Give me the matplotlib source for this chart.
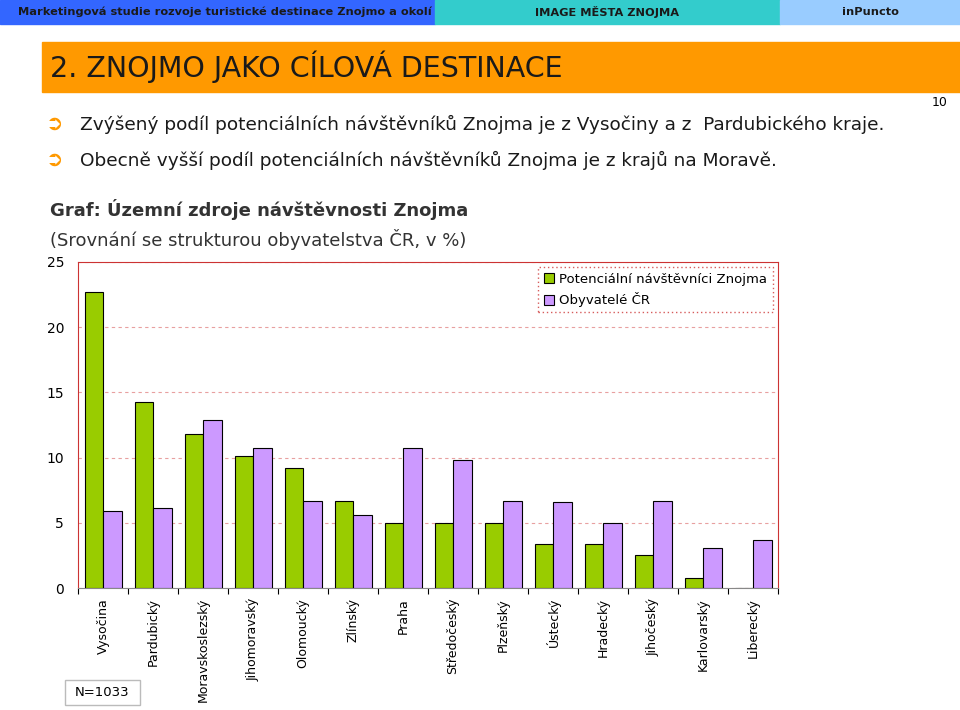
import matplotlib
matplotlib.use("Agg")
import matplotlib.pyplot as plt
from matplotlib.patches import Rectangle
import numpy as np

categories = ["Vysočina", "Pardubický", "Moravskoslezský", "Jihomoravský", "Olomoucký",
              "Zlínský", "Praha", "Středočeský", "Plzeňský", "Ústecký", "Hradecký",
              "Jihočeský", "Karlovarský", "Liberecký"]
visitors = [22.7, 14.3, 11.8, 10.1, 9.2, 6.7, 5.0, 5.0, 5.0, 3.4, 3.4, 2.5, 0.8, 0.0]
population = [5.9, 6.1, 12.9, 10.7, 6.7, 5.6, 10.7, 9.8, 6.7, 6.6, 5.0, 6.7, 3.1, 3.7]
yticks = [0, 5, 10, 15, 20, 25]

W, H = 960, 710
fig = plt.figure(figsize=(9.6, 7.1), dpi=100)
def fx(x): return x / W
def fy(y): return 1 - y / H

# header bars
for x0, x1, c, t, cx in [(0, 435, "#3366FF", "Marketingová studie rozvoje turistické destinace Znojmo a okolí", 225),
                         (435, 780, "#33CCCC", "IMAGE MĚSTA ZNOJMA", 607),
                         (780, 960, "#99CCFF", "inPuncto", 870)]:
    fig.patches.append(Rectangle((fx(x0), fy(24)), fx(x1 - x0), 24 / H, transform=fig.transFigure,
                                 color=c, zorder=0))
    fig.text(fx(cx), fy(12), t, ha="center", va="center", fontsize=8.2, fontweight="bold",
             color="#1a1a1a")
fig.patches.append(Rectangle((fx(42), fy(92)), fx(918), 50 / H, transform=fig.transFigure,
                             color="#FF9900", zorder=0))
fig.text(fx(50), fy(67), "2. ZNOJMO JAKO CÍLOVÁ DESTINACE", fontsize=20.5, va="center",
         color="#1a1a1a")
fig.text(fx(948), fy(103), "10", fontsize=9, ha="right", va="center")

for y, t in [(124, "Zvýšený podíl potenciálních návštěvníků Znojma je z Vysočiny a z  Pardubického kraje."),
             (160, "Obecně vyšší podíl potenciálních návštěvníků Znojma je z krajů na Moravě.")]:
    fig.text(fx(55), fy(y), "➲", fontsize=15, color="#FF9900", va="center", ha="center")
    fig.text(fx(80), fy(y), t, fontsize=13.3, va="center", color="#1a1a1a")

fig.text(fx(50), fy(209), "Graf: Územní zdroje návštěvnosti Znojma", fontsize=13, fontweight="bold",
         va="center", color="#333333")
fig.text(fx(50), fy(239), "(Srovnání se strukturou obyvatelstva ČR, v %)", fontsize=13,
         va="center", color="#333333")

ax = fig.add_axes([fx(78), fy(588), fx(700), 326 / H])
x = np.arange(len(categories))
w = 0.37
ax.bar(x - w / 2, visitors, w, color="#99CC00", edgecolor="black", linewidth=0.8,
       label="Potenciální návštěvníci Znojma", zorder=3)
ax.bar(x + w / 2, population, w, color="#CC99FF", edgecolor="black", linewidth=0.8,
       label="Obyvatelé ČR", zorder=3)
ax.set_xlim(-0.5, len(categories) - 0.5)
ax.set_ylim(0, 25)
ax.set_yticks(yticks)
ax.set_yticklabels([str(t) for t in yticks], fontsize=10)
ax.yaxis.grid(True, color="#E8A0A0", linestyle=(0, (3, 3)), linewidth=0.8, zorder=0)
ax.set_xticks(np.arange(len(categories) + 1) - 0.5, minor=False)
ax.set_xticklabels([])
ax.tick_params(axis="x", length=4)
ax.tick_params(axis="y", length=0, pad=10)
for s in ["top", "right", "left"]:
    ax.spines[s].set_color("#CC3333")
ax.spines["bottom"].set_color("#888888")
for i, c in enumerate(categories):
    ax.text(i, -0.03, c, transform=ax.get_xaxis_transform(), rotation=90, ha="center", va="top",
            fontsize=9)
leg = ax.legend(loc="upper right", fontsize=9.5, frameon=True, fancybox=False,
                handlelength=0.8, handleheight=0.8, borderaxespad=0.4, handletextpad=0.4)
leg.get_frame().set_edgecolor("#CC3333")
leg.get_frame().set_linestyle((0, (1, 2)))
leg.get_frame().set_linewidth(1)

fig.patches.append(Rectangle((fx(65), fy(705)), fx(75), 25 / H, transform=fig.transFigure,
                             facecolor="white", edgecolor="#BBBBBB", linewidth=1))
fig.text(fx(102), fy(692), "N=1033", ha="center", va="center", fontsize=9.5)

fig.savefig("out.png", dpi=100)
